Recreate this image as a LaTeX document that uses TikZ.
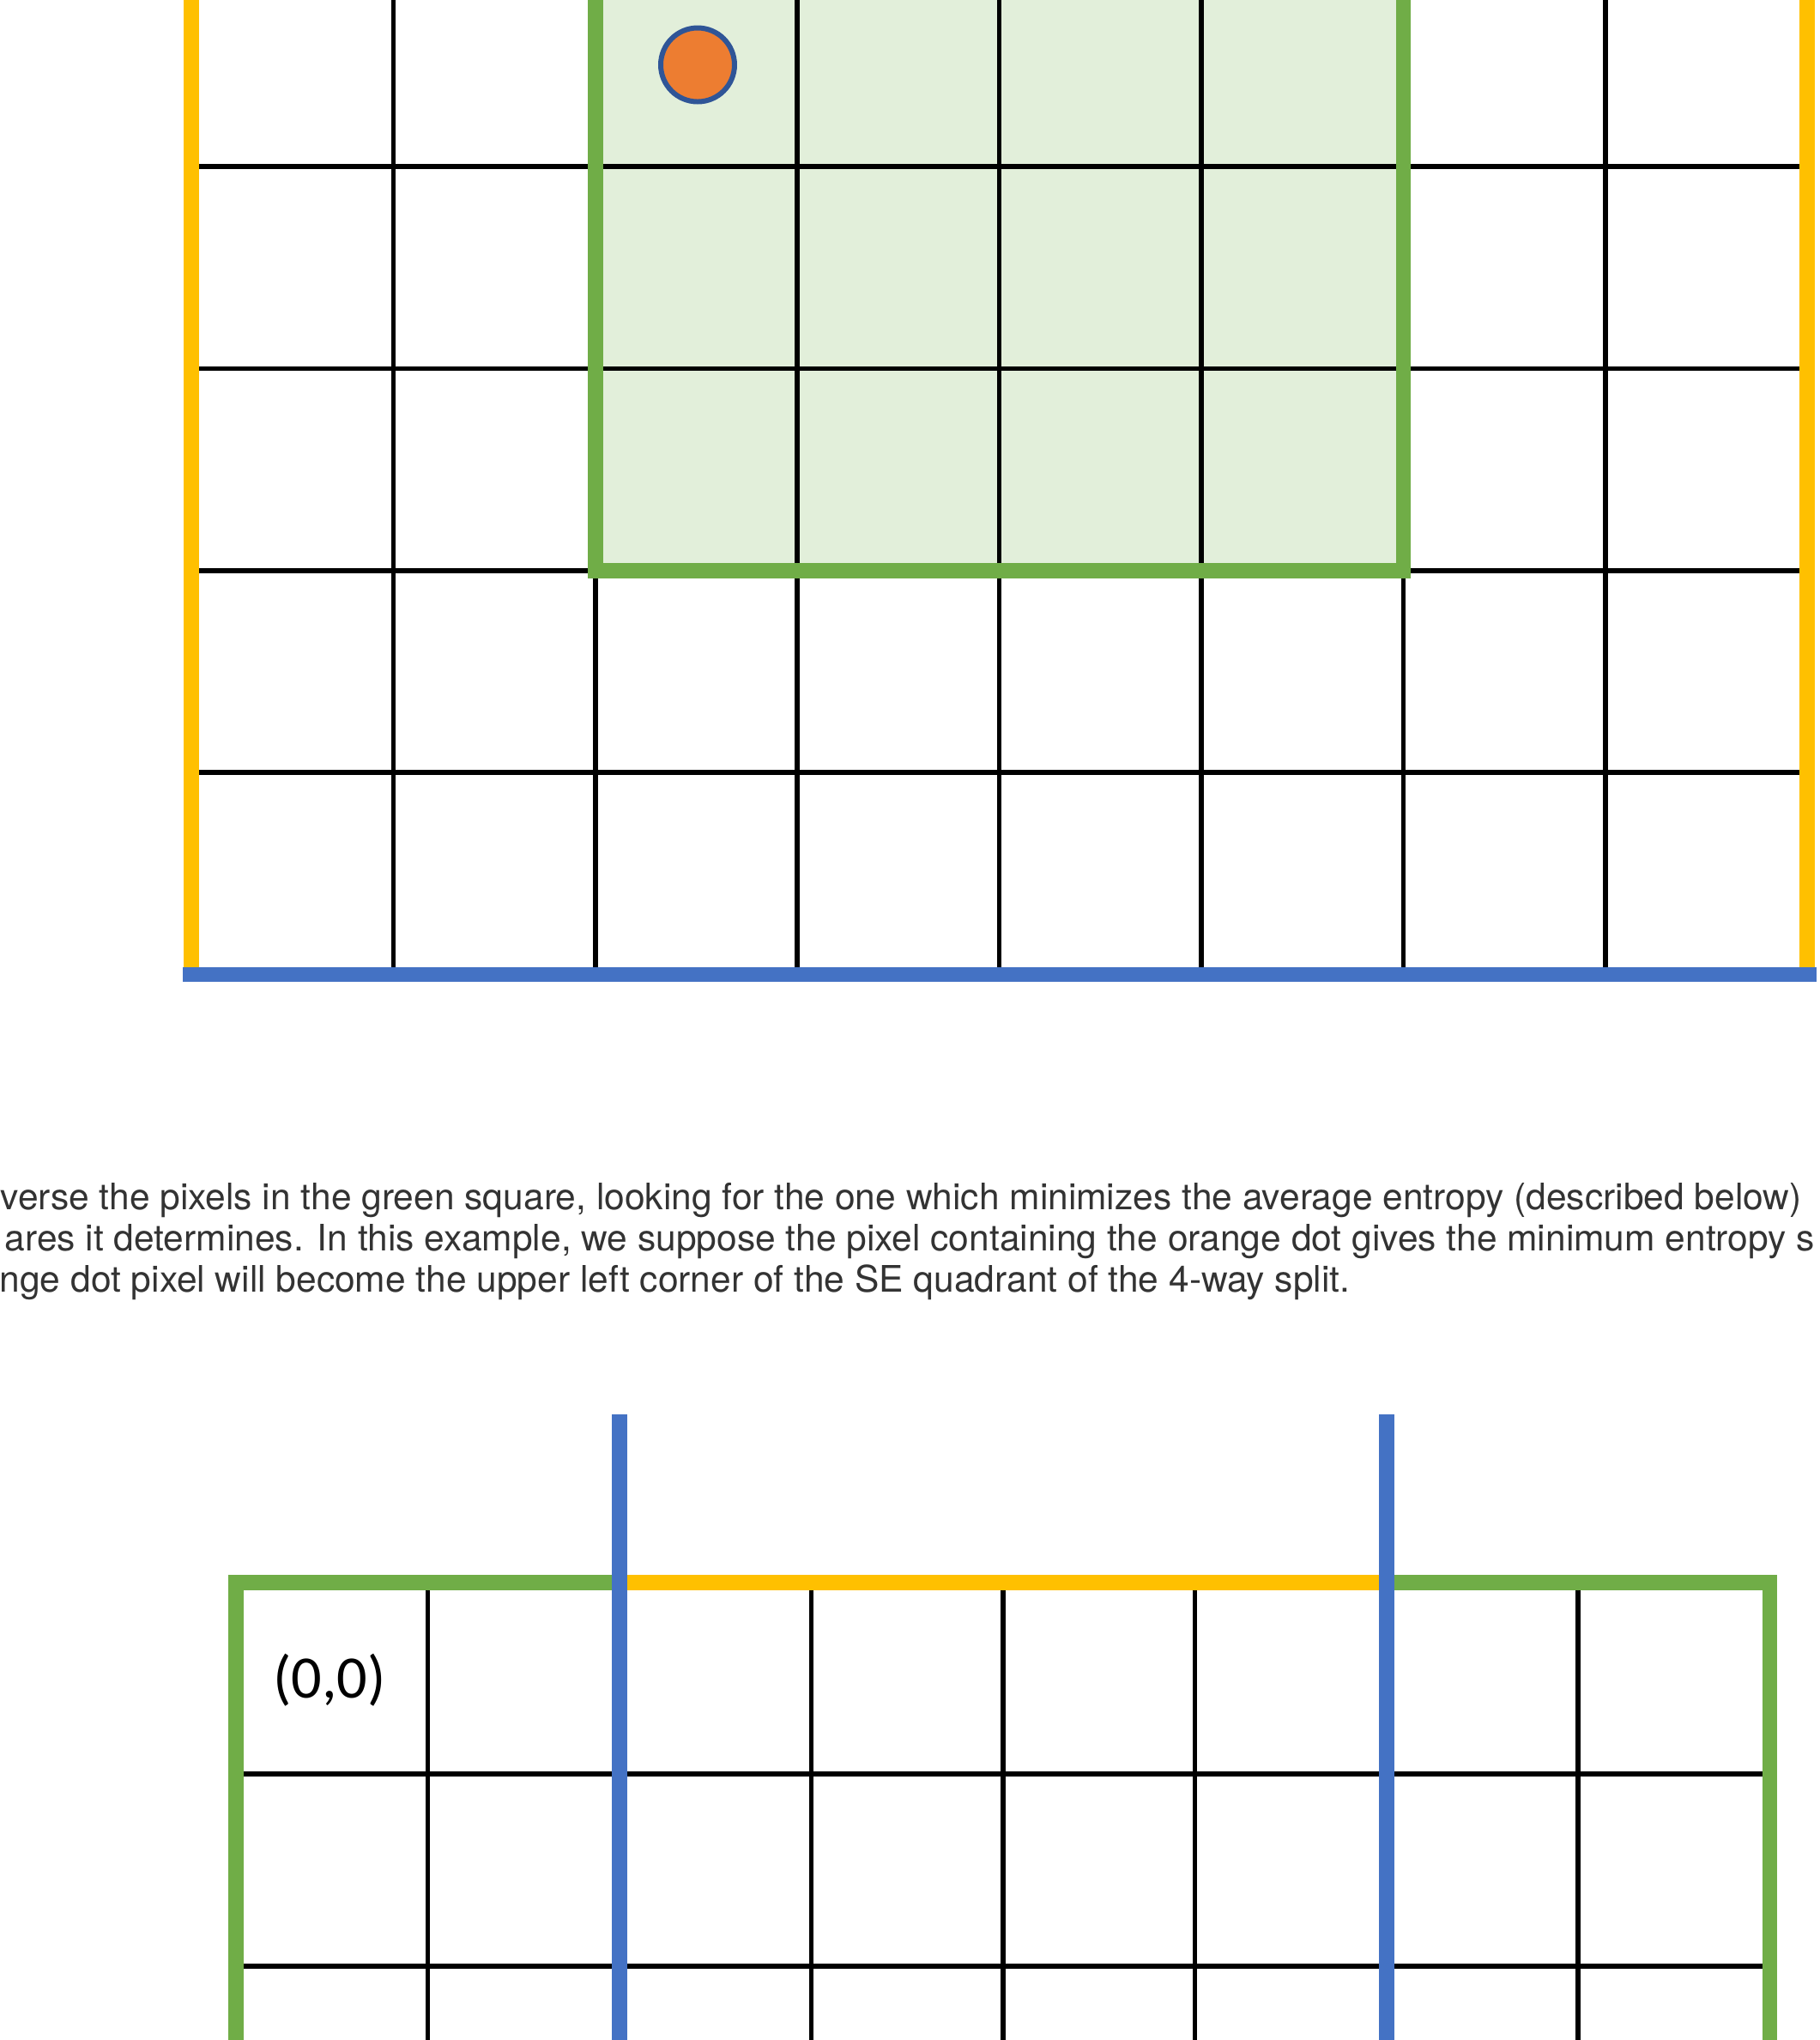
\documentclass[tikz,border=0pt]{standalone}
\usepackage{fontspec}
\setmainfont{TeX Gyre Heros}
\newfontfamily\calibri{Carlito}
\usepackage{xcolor}
\definecolor{gridgreen}{HTML}{70AD47}
\definecolor{palegreen}{HTML}{E2EFDA}
\definecolor{gridyellow}{HTML}{FFC000}
\definecolor{gridblue}{HTML}{4472C4}
\definecolor{dotorange}{HTML}{ED7D31}
\definecolor{dotring}{HTML}{2F5597}
\definecolor{textgray}{HTML}{333333}

\begin{document}
\begin{tikzpicture}[gridline/.style={draw=black,line width=1.6pt},
                    border/.style={line width=5pt},
                    dot/.style={circle,fill=dotorange,draw=dotring,line width=1.7pt,minimum size=0.86cm,inner sep=0pt},
                    caption/.style={anchor=base west,inner sep=0pt,text=textgray,font=\fontsize{12.1}{14}\selectfont}]
\useasboundingbox (0,0) rectangle (21.21,-23.77);
\clip (0,0) rectangle (21.21,-23.77);
% upper grid with the green search square
\fill[palegreen] (6.938,1) rectangle (16.354,-6.647);
\begin{scope}[shift={(2.23,-11.355)},scale=2.354]
\draw[gridline] (0,0) grid (8,5.2);
\end{scope}
\draw[border,gridgreen] (6.938,1) |- (16.354,-6.647) -- (16.354,1);
\draw[border,gridyellow] (2.23,1) -- (2.23,-11.355);
\draw[border,gridyellow] (21.062,1) -- (21.062,-11.355);
\draw[border,gridblue] (2.13,-11.355) -- (21.17,-11.355);
\node[dot] (pick) at (8.13,-0.755) {};
% text
\node[caption] (line1) at (0,-14.09) {verse the pixels in the green square, looking for the one which minimizes the average entropy (described below)};
\node[caption] (line2) at (0.05,-14.57) {ares it determines. In this example, we suppose the pixel containing the orange dot gives the minimum entropy s};
\node[caption] (line3) at (-0.01,-15.05) {nge dot pixel will become the upper left corner of the SE quadrant of the 4-way split.};
% lower grid after the split
\begin{scope}[shift={(2.752,-18.438)},scale=2.2344]
\draw[gridline] (0,-2.6) grid (8,0);
\end{scope}
\draw[border,gridgreen] (2.752,-24) |- (7.221,-18.438);
\draw[border,gridgreen] (16.158,-18.438) -| (20.627,-24);
\draw[border,gridyellow] (7.221,-18.438) -- (16.158,-18.438);
\draw[border,gridblue] (7.221,-16.48) -- (7.221,-24);
\draw[border,gridblue] (16.158,-16.48) -- (16.158,-24);
\node[font=\calibri\fontsize{20}{24}\selectfont] (origin) at (3.84,-19.58) {(0,0)};
\end{tikzpicture}
\end{document}
